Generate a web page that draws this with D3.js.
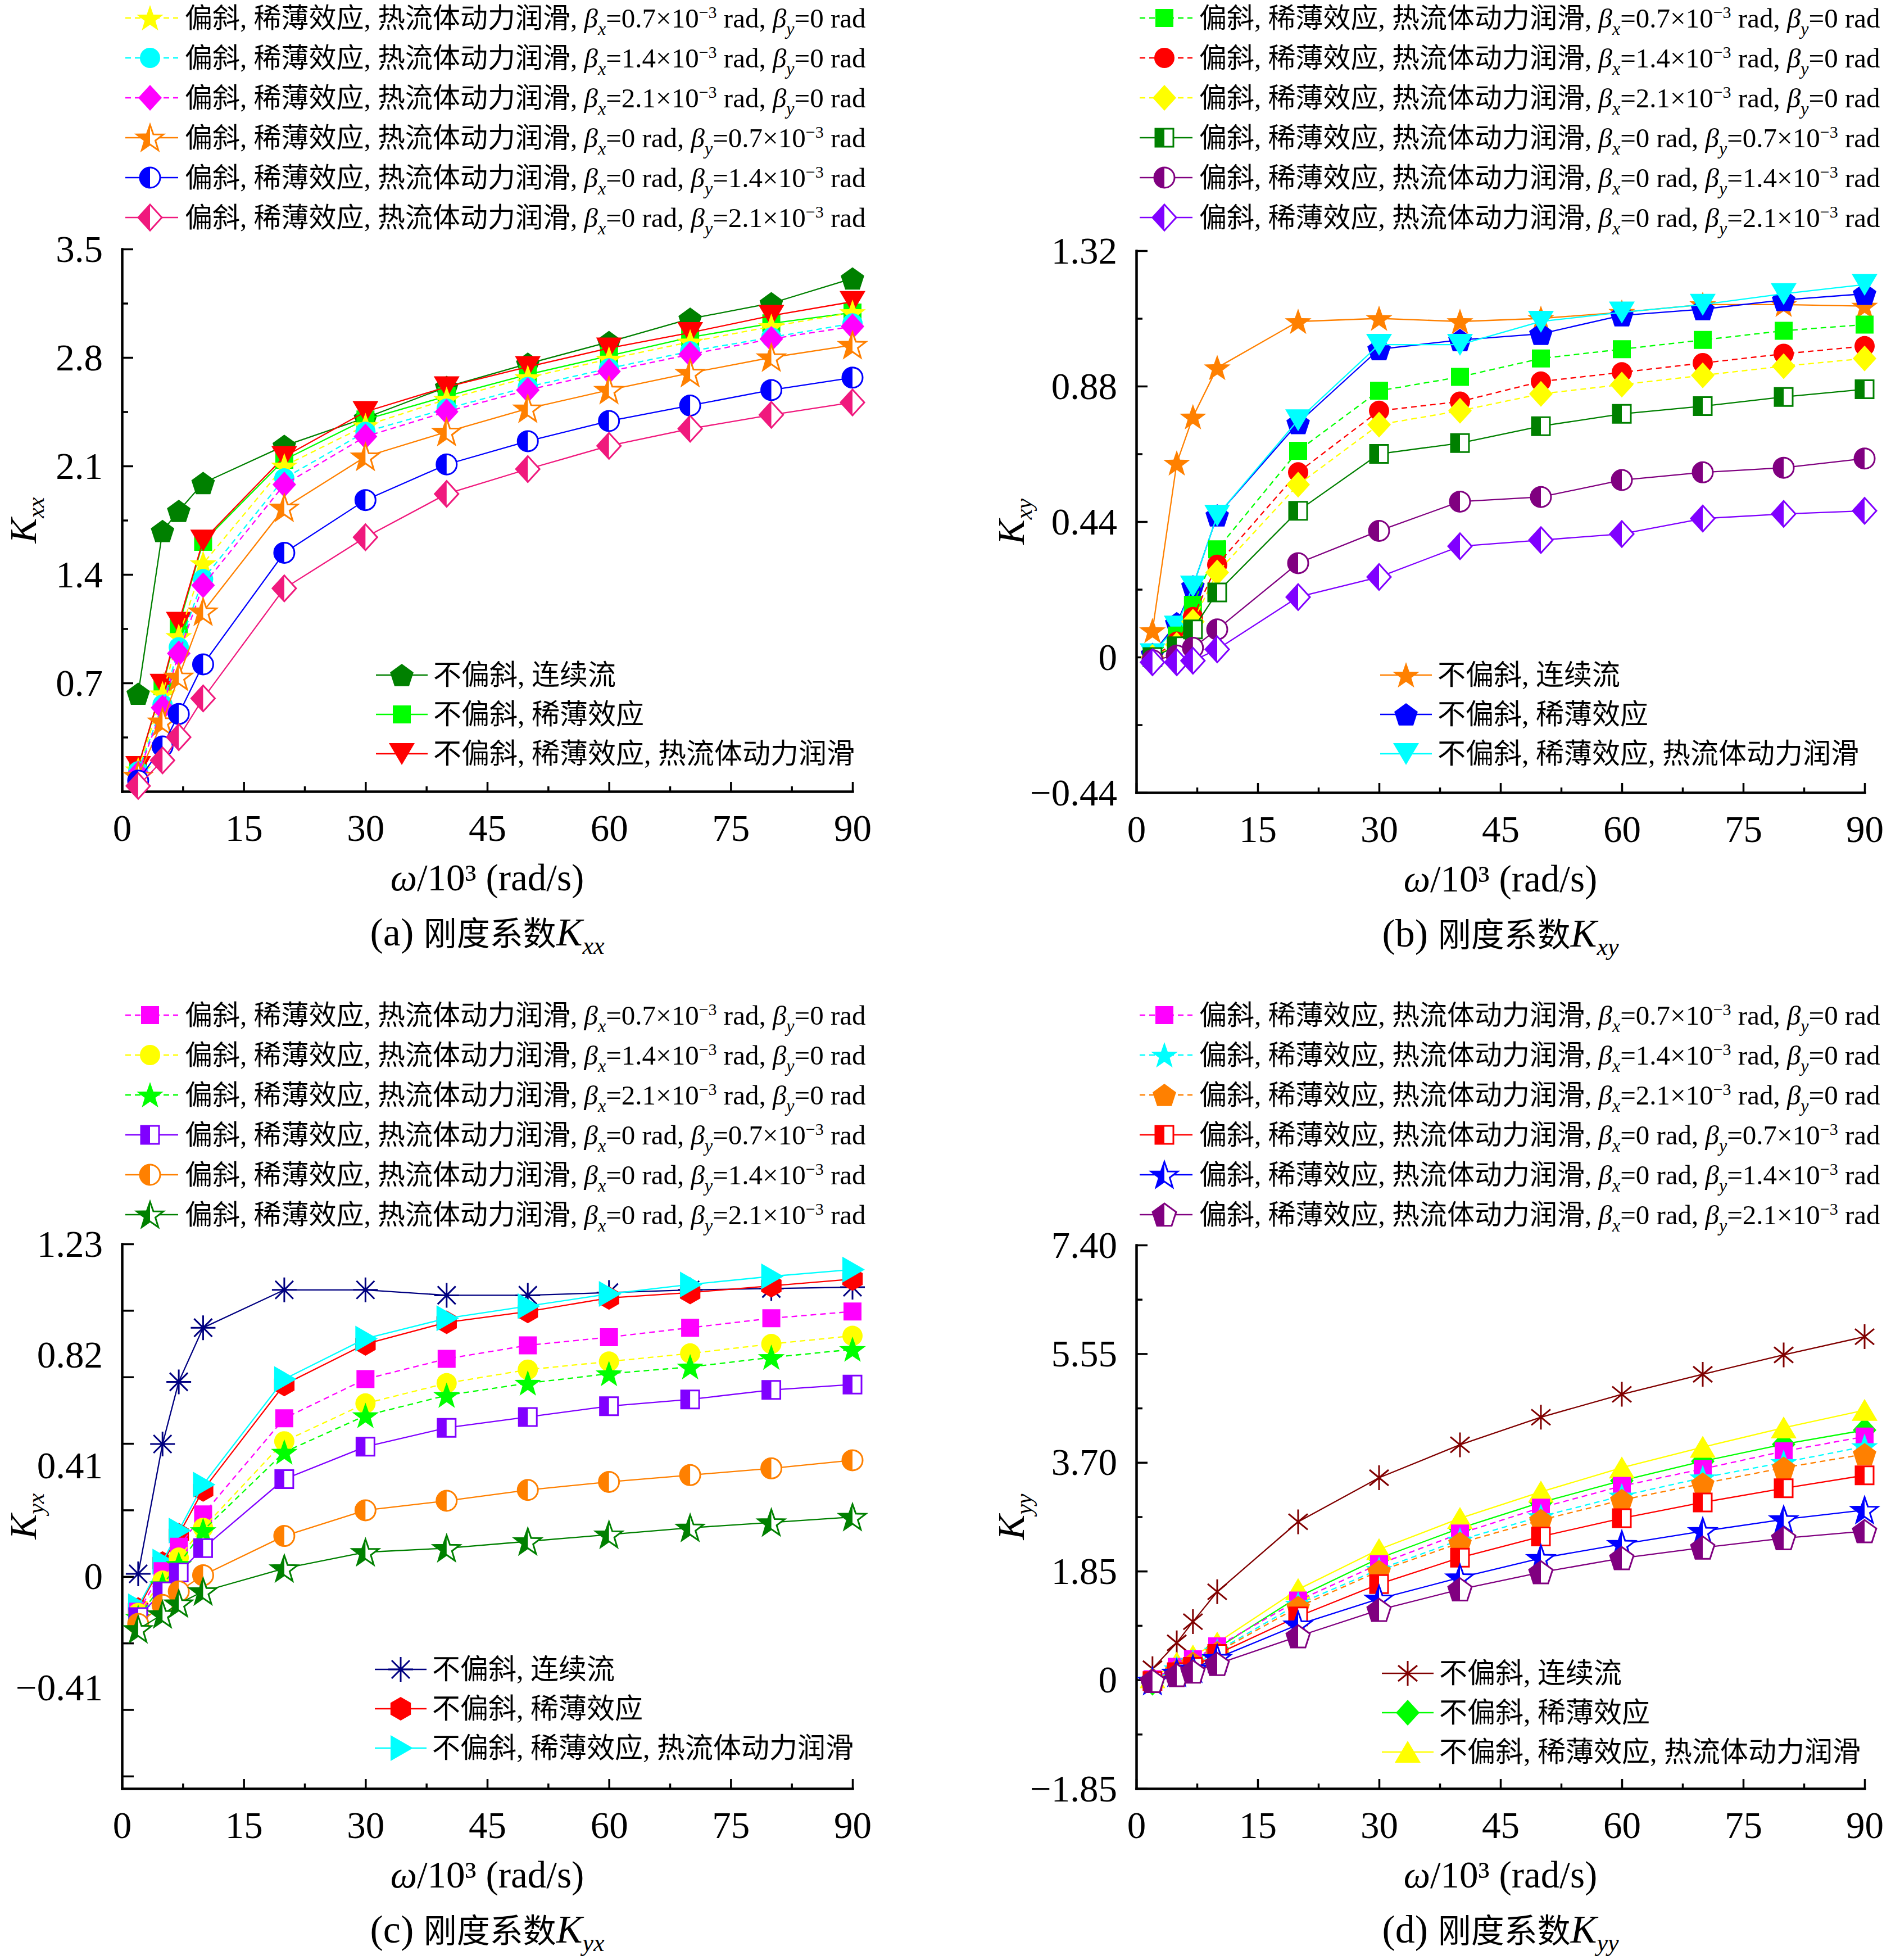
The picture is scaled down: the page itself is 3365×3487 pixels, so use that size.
<!DOCTYPE html>
<html>
<head>
<meta charset="utf-8">
<script src="https://cdn.jsdelivr.net/npm/d3@7"></script>
<style>
  body { margin: 0; background: #fff; }
  text { font-family: "Liberation Serif", "Times New Roman", "Noto Sans CJK SC", serif; fill: #000; }
</style>
</head>
<body>
<svg id="chart" width="3365" height="3487"></svg>
<script>
// shaft speed, 10^3 rad/s
var omega = [2, 5, 7, 10, 20, 30, 40, 50, 60, 70, 80, 90]
var xTicks = [0, 15, 30, 45, 60, 75, 90]

var mainLabels = ["不偏斜, 连续流", "不偏斜, 稀薄效应", "不偏斜, 稀薄效应, 热流体动力润滑"]
var betaX = ["0.7", "1.4", "2.1", "0", "0", "0"]
var betaY = ["0", "0", "0", "0.7", "1.4", "2.1"]

// (a) Kxx
var kxxContinuum = [0.63, 1.68, 1.81, 1.99, 2.23, 2.41, 2.61, 2.76, 2.90, 3.05, 3.15, 3.31]
var kxxRarefied  = [0.16, 0.68, 1.07, 1.61, 2.14, 2.40, 2.55, 2.69, 2.81, 2.93, 3.02, 3.09]
var kxxThermal   = [0.16, 0.69, 1.09, 1.62, 2.16, 2.45, 2.61, 2.74, 2.86, 2.96, 3.07, 3.16]
var kxxBx07 = [0.14, 0.63, 1.00, 1.47, 2.10, 2.36, 2.53, 2.67, 2.79, 2.90, 3.00, 3.09]
var kxxBx14 = [0.13, 0.56, 0.93, 1.37, 2.02, 2.32, 2.47, 2.61, 2.73, 2.84, 2.93, 3.02]
var kxxBx21 = [0.115, 0.54, 0.89, 1.33, 1.98, 2.29, 2.45, 2.59, 2.71, 2.82, 2.92, 3.00]
var kxxBy07 = [0.10, 0.45, 0.74, 1.16, 1.83, 2.16, 2.32, 2.47, 2.59, 2.70, 2.80, 2.88]
var kxxBy14 = [0.07, 0.29, 0.50, 0.82, 1.54, 1.88, 2.11, 2.26, 2.39, 2.49, 2.59, 2.67]
var kxxBy21 = [0.035, 0.20, 0.35, 0.60, 1.31, 1.64, 1.92, 2.08, 2.23, 2.34, 2.43, 2.51]
var kxxTicks = [0.7, 1.4, 2.1, 2.8, 3.5]

// (b) Kxy
var kxyContinuum = [0.086, 0.63, 0.78, 0.94, 1.09, 1.10, 1.09, 1.10, 1.12, 1.145, 1.145, 1.14]
var kxyRarefied  = [0.01, 0.11, 0.23, 0.46, 0.76, 1.00, 1.03, 1.05, 1.11, 1.13, 1.16, 1.18]
var kxyThermal   = [0.01, 0.10, 0.23, 0.46, 0.77, 1.015, 1.015, 1.09, 1.12, 1.145, 1.18, 1.21]
var kxyBx07 = [0.0, 0.07, 0.17, 0.35, 0.67, 0.865, 0.91, 0.97, 1.00, 1.03, 1.06, 1.08]
var kxyBx14 = [0.0, 0.05, 0.13, 0.30, 0.60, 0.80, 0.83, 0.895, 0.925, 0.955, 0.985, 1.01]
var kxyBx21 = [0.0, 0.04, 0.115, 0.275, 0.56, 0.755, 0.80, 0.855, 0.885, 0.915, 0.945, 0.97]
var kxyBy07 = [0.0, 0.035, 0.09, 0.21, 0.475, 0.66, 0.695, 0.75, 0.79, 0.815, 0.845, 0.87]
var kxyBy14 = [-0.01, 0.005, 0.03, 0.09, 0.305, 0.41, 0.505, 0.52, 0.575, 0.60, 0.615, 0.645]
var kxyBy21 = [-0.017, -0.017, -0.012, 0.025, 0.195, 0.26, 0.36, 0.38, 0.40, 0.45, 0.465, 0.475]
var kxyTicks = [-0.44, 0, 0.44, 0.88, 1.32]

// (c) Kyx
var kyxContinuum = [0.01, 0.49, 0.72, 0.92, 1.06, 1.06, 1.04, 1.04, 1.05, 1.06, 1.065, 1.07]
var kyxRarefied  = [-0.12, 0.05, 0.155, 0.32, 0.71, 0.86, 0.94, 0.98, 1.03, 1.05, 1.075, 1.10]
var kyxThermal   = [-0.11, 0.055, 0.17, 0.34, 0.73, 0.88, 0.955, 1.00, 1.045, 1.08, 1.11, 1.135]
var kyxBx07 = [-0.13, 0.02, 0.11, 0.23, 0.585, 0.73, 0.805, 0.855, 0.885, 0.92, 0.955, 0.98]
var kyxBx14 = [-0.135, -0.015, 0.07, 0.18, 0.50, 0.64, 0.715, 0.765, 0.795, 0.825, 0.86, 0.89]
var kyxBx21 = [-0.15, -0.03, 0.045, 0.17, 0.46, 0.595, 0.67, 0.715, 0.75, 0.775, 0.81, 0.84]
var kyxBy07 = [-0.15, -0.055, 0.015, 0.105, 0.36, 0.48, 0.55, 0.59, 0.63, 0.655, 0.69, 0.71]
var kyxBy14 = [-0.175, -0.105, -0.055, 0.005, 0.15, 0.245, 0.28, 0.32, 0.35, 0.375, 0.40, 0.43]
var kyxBy21 = [-0.195, -0.14, -0.10, -0.055, 0.03, 0.09, 0.105, 0.13, 0.155, 0.18, 0.20, 0.22]
var kyxTicks = [-0.41, 0, 0.41, 0.82, 1.23]
var kyxMarks = [-0.738, -0.492, -0.246, 0, 0.246, 0.492, 0.738, 0.984, 1.23]

// (d) Kyy
var kyyContinuum = [0.19, 0.63, 0.99, 1.50, 2.69, 3.44, 4.00, 4.47, 4.86, 5.20, 5.53, 5.84]
var kyyRarefied  = [-0.05, 0.19, 0.32, 0.54, 1.41, 2.07, 2.58, 3.02, 3.39, 3.72, 4.01, 4.25]
var kyyThermal   = [0.04, 0.29, 0.41, 0.63, 1.54, 2.22, 2.75, 3.20, 3.61, 3.96, 4.29, 4.59]
var kyyBx07 = [0.01, 0.22, 0.35, 0.57, 1.35, 1.97, 2.49, 2.93, 3.30, 3.59, 3.89, 4.14]
var kyyBx14 = [0.0, 0.19, 0.31, 0.49, 1.29, 1.88, 2.38, 2.78, 3.13, 3.44, 3.70, 3.97]
var kyyBx21 = [-0.02, 0.16, 0.29, 0.47, 1.24, 1.85, 2.33, 2.72, 3.06, 3.34, 3.61, 3.84]
var kyyBy07 = [-0.02, 0.13, 0.22, 0.44, 1.08, 1.63, 2.08, 2.44, 2.75, 3.02, 3.26, 3.48]
var kyyBy14 = [-0.02, 0.12, 0.19, 0.37, 0.94, 1.38, 1.74, 2.07, 2.31, 2.53, 2.73, 2.89]
var kyyBy21 = [-0.02, 0.08, 0.14, 0.27, 0.74, 1.19, 1.54, 1.83, 2.07, 2.25, 2.41, 2.53]
var kyyTicks = [-1.85, 0, 1.85, 3.70, 5.55, 7.40]

var svg = d3.select("#chart")
svg.append("rect").attr("width", 3365).attr("height", 3487).attr("fill", "#fff")

// left half clip, used by the half filled markers
svg.append("defs").append("clipPath").attr("id", "leftHalf")
  .append("rect").attr("x", -60).attr("y", -60).attr("width", 60).attr("height", 120)

function poly(pts) {
  return "M" + pts.map(function (p) { return p[0].toFixed(2) + "," + p[1].toFixed(2) }).join("L") + "Z"
}

function ngon(n, r, dy) {
  var pts = []
  for (var i = 0; i < n; i++) {
    var a = -Math.PI / 2 + i * 2 * Math.PI / n
    pts.push([r * Math.cos(a), r * Math.sin(a) + dy])
  }
  return pts
}

function starPts(r, ri) {
  var pts = []
  for (var i = 0; i < 10; i++) {
    var a = -Math.PI / 2 + i * Math.PI / 5
    var rr = i % 2 ? ri : r
    pts.push([rr * Math.cos(a), rr * Math.sin(a) + 2])
  }
  return pts
}

var shapes = {
  circle: "M-18,0A18,18 0 1,0 18,0A18,18 0 1,0 -18,0Z",
  square: poly([[-16, -16], [16, -16], [16, 16], [-16, 16]]),
  diamond: poly([[0, -23], [21, 0], [0, 23], [-21, 0]]),
  triUp: poly([[0, -20], [23, 19], [-23, 19]]),
  triDown: poly([[-23, -19], [23, -19], [0, 20]]),
  triRight: poly([[-18, -23], [22, 0], [-18, 23]]),
  pentagon: poly(ngon(5, 22, 2)),
  hexagon: poly(ngon(6, 21, 0)),
  star: poly(starPts(25, 10)),
  asterisk8: "M-22,0L22,0M0,-22L0,22M-16,-16L16,16M-16,16L16,-16",
  asterisk6: "M0,-22L0,22M-17,-14L17,14M-17,14L17,-14"
}

function drawMarker(g, st, px, py) {
  var m = g.append("g").attr("transform", "translate(" + px + "," + py + ")")
  var d = shapes[st.s]
  if (st.s.indexOf("asterisk") === 0) {
    m.append("path").attr("d", d).attr("fill", "none").attr("stroke", st.c).attr("stroke-width", 3)
  } else if (st.half) {
    m.append("path").attr("d", d).attr("fill", "#fff").attr("stroke", st.c).attr("stroke-width", 3)
    m.append("path").attr("d", d).attr("fill", st.c).attr("clip-path", "url(#leftHalf)")
  } else {
    m.append("path").attr("d", d).attr("fill", st.c)
  }
}

function addBeta(t, axis, val) {
  t.append("tspan").attr("font-style", "italic").text("β")
  t.append("tspan").attr("font-style", "italic").attr("font-size", 32).attr("dy", 13).text(axis)
  if (val === "0") {
    t.append("tspan").attr("dy", -13).text("=0 rad")
  } else {
    t.append("tspan").attr("dy", -13).text("=" + val + "×10")
    t.append("tspan").attr("font-size", 30).attr("dy", -17).text("−3")
    t.append("tspan").attr("dy", 17).text(" rad")
  }
}

function fmt(dec) {
  return function (v) {
    if (v === 0) return "0"
    return (v < 0 ? "−" : "") + Math.abs(v).toFixed(dec)
  }
}

function styleAxis(sel) {
  sel.select(".domain").attr("stroke", "#000").attr("stroke-width", 4).attr("stroke-linecap", "square")
  sel.selectAll(".tick line").attr("stroke", "#000").attr("stroke-width", 3.5)
}

function drawPanel(p) {
  var g = svg.append("g")
  var x = d3.scaleLinear().domain([0, 90]).range([p.x0, p.x1])
  var y = d3.scaleLinear().domain(p.domain).range([p.yBot, p.yTop])

  // x axis: minor then major ticks, pointing inward
  g.append("g").attr("transform", "translate(0," + p.yBot + ")")
    .call(d3.axisBottom(x).tickValues(d3.range(7.5, 90, 15)).tickSize(-9).tickSizeOuter(0).tickFormat(""))
    .call(styleAxis)
  var xa = g.append("g").attr("transform", "translate(0," + p.yBot + ")")
    .call(d3.axisBottom(x).tickValues(xTicks).tickSize(-17).tickSizeOuter(0))
    .call(styleAxis)
  xa.selectAll("text").attr("y", 88).attr("dy", 0).attr("font-size", 67)
    .style("font-family", "Liberation Serif")

  // y axis
  g.append("g").attr("transform", "translate(" + p.x0 + ",0)")
    .call(d3.axisLeft(y).tickValues(p.minor).tickSize(-p.minorLen).tickSizeOuter(0).tickFormat(""))
    .call(styleAxis)
  g.append("g").attr("transform", "translate(" + p.x0 + ",0)")
    .call(d3.axisLeft(y).tickValues(p.major).tickSize(-p.majorLen).tickSizeOuter(0).tickFormat(""))
    .call(styleAxis)
  var ya = g.append("g").attr("transform", "translate(" + p.x0 + ",0)")
    .call(d3.axisLeft(y).tickValues(p.ticks).tickSize(0).tickFormat(fmt(p.dec)))
  ya.select(".domain").remove()
  ya.selectAll("text").attr("x", -34).attr("dy", "0.33em").attr("font-size", 67)
    .style("font-family", "Liberation Serif")

  // axis titles and caption
  var xm = (p.x0 + p.x1) / 2
  var xt = g.append("text").attr("x", xm).attr("y", p.yBot + 176).attr("text-anchor", "middle").attr("font-size", 67)
  xt.append("tspan").attr("font-style", "italic").text("ω")
  xt.append("tspan").text("/10³ (rad/s)")

  var cap = g.append("text").attr("x", xm).attr("y", p.yBot + 274).attr("text-anchor", "middle").attr("font-size", 70)
  cap.append("tspan").text("(" + p.id + ") ")
  cap.append("tspan").attr("font-size", 59).text("刚度系数")
  cap.append("tspan").attr("font-style", "italic").text("K")
  cap.append("tspan").attr("font-style", "italic").attr("font-size", 44).attr("dy", 15).text(p.sub)

  var yl = g.append("text").attr("transform", "translate(" + p.yLabelX + "," + ((p.yTop + p.yBot) / 2) + ") rotate(-90)")
    .attr("text-anchor", "middle").attr("font-size", 67)
  yl.append("tspan").attr("font-style", "italic").text("K")
  yl.append("tspan").attr("font-style", "italic").attr("font-size", 42).attr("dy", 14).text(p.sub)

  // series: the three reference cases first, then the tilted ones
  var all = p.mainStyles.map(function (st, i) { return { st: st, v: p.mainValues[i] } })
    .concat(p.tiltStyles.map(function (st, i) { return { st: st, v: p.tiltValues[i] } }))
  var line = d3.line().x(function (d, i) { return x(omega[i]) }).y(function (d) { return y(d) })
  all.forEach(function (s) {
    g.append("path").attr("d", line(s.v)).attr("fill", "none").attr("stroke", s.st.c)
      .attr("stroke-width", 2.3).attr("stroke-dasharray", s.st.dash ? "10,7" : null)
    s.v.forEach(function (d, i) { drawMarker(g, s.st, x(omega[i]), y(d)) })
  })

  // top legend (tilted cases)
  p.tiltStyles.forEach(function (st, i) {
    var ry = p.topY + i * 71
    g.append("line").attr("x1", p.x0 + 6).attr("x2", p.x0 + 100).attr("y1", ry).attr("y2", ry)
      .attr("stroke", st.c).attr("stroke-width", 2.5).attr("stroke-dasharray", st.dash ? "10,7" : null)
    drawMarker(g, st, p.x0 + 50, ry)
    var t = g.append("text").attr("x", p.x0 + 112).attr("y", ry + 17).attr("font-size", 49)
    t.append("tspan").text("偏斜, 稀薄效应, 热流体动力润滑, ")
    addBeta(t, "x", betaX[i])
    t.append("tspan").text(", ")
    addBeta(t, "y", betaY[i])
  })

  // inner legend (untilted cases)
  p.mainStyles.forEach(function (st, i) {
    var ry = p.inY + i * 70
    g.append("line").attr("x1", p.inX - 46).attr("x2", p.inX + 46).attr("y1", ry).attr("y2", ry)
      .attr("stroke", st.c).attr("stroke-width", 2.5)
    drawMarker(g, st, p.inX, ry)
    g.append("text").attr("x", p.inX + 56).attr("y", ry + 17).attr("font-size", 50).text(mainLabels[i])
  })
}

drawPanel({
  id: "a", sub: "xx", x0: 217, x1: 1517, yTop: 443, yBot: 1408, domain: [0, 3.5], yLabelX: 64,
  ticks: kxxTicks, dec: 1, major: kxxTicks, minor: [0.35, 1.05, 1.75, 2.45, 3.15], majorLen: 20, minorLen: 11,
  topY: 32, inX: 715, inY: 1201,
  mainValues: [kxxContinuum, kxxRarefied, kxxThermal],
  mainStyles: [{ c: "#008000", s: "pentagon" }, { c: "#00ff00", s: "square" }, { c: "#ff0000", s: "triDown" }],
  tiltValues: [kxxBx07, kxxBx14, kxxBx21, kxxBy07, kxxBy14, kxxBy21],
  tiltStyles: [{ c: "#ffff00", s: "star", dash: true }, { c: "#00ffff", s: "circle", dash: true },
    { c: "#ff00ff", s: "diamond", dash: true }, { c: "#ff8000", s: "star", half: true },
    { c: "#0000ff", s: "circle", half: true }, { c: "#f0197d", s: "diamond", half: true }]
})

drawPanel({
  id: "b", sub: "xy", x0: 2022, x1: 3318, yTop: 446, yBot: 1410, domain: [-0.44, 1.32], yLabelX: 1822,
  ticks: kxyTicks, dec: 2, major: kxyTicks, minor: [-0.22, 0.22, 0.66, 1.10], majorLen: 20, minorLen: 11,
  topY: 32, inX: 2502, inY: 1201,
  mainValues: [kxyContinuum, kxyRarefied, kxyThermal],
  mainStyles: [{ c: "#ff8000", s: "star" }, { c: "#0000ff", s: "pentagon" }, { c: "#00ffff", s: "triDown" }],
  tiltValues: [kxyBx07, kxyBx14, kxyBx21, kxyBy07, kxyBy14, kxyBy21],
  tiltStyles: [{ c: "#00ff00", s: "square", dash: true }, { c: "#ff0000", s: "circle", dash: true },
    { c: "#ffff00", s: "diamond", dash: true }, { c: "#008000", s: "square", half: true },
    { c: "#800080", s: "circle", half: true }, { c: "#8000ff", s: "diamond", half: true }]
})

drawPanel({
  id: "c", sub: "yx", x0: 217, x1: 1517, yTop: 2213, yBot: 3182, domain: [-0.784, 1.23], yLabelX: 64,
  ticks: kyxTicks, dec: 2, major: kyxMarks, minor: [], majorLen: 21, minorLen: 11,
  topY: 1806, inX: 713, inY: 2970,
  mainValues: [kyxContinuum, kyxRarefied, kyxThermal],
  mainStyles: [{ c: "#000080", s: "asterisk8" }, { c: "#ff0000", s: "hexagon" }, { c: "#00ffff", s: "triRight" }],
  tiltValues: [kyxBx07, kyxBx14, kyxBx21, kyxBy07, kyxBy14, kyxBy21],
  tiltStyles: [{ c: "#ff00ff", s: "square", dash: true }, { c: "#ffff00", s: "circle", dash: true },
    { c: "#00ff00", s: "star", dash: true }, { c: "#8000ff", s: "square", half: true },
    { c: "#ff8000", s: "circle", half: true }, { c: "#008000", s: "star", half: true }]
})

drawPanel({
  id: "d", sub: "yy", x0: 2022, x1: 3318, yTop: 2215, yBot: 3182, domain: [-1.85, 7.40], yLabelX: 1822,
  ticks: kyyTicks, dec: 2, major: kyyTicks, minor: [-0.925, 0.925, 2.775, 4.625, 6.475], majorLen: 20, minorLen: 11,
  topY: 1806, inX: 2505, inY: 2977,
  mainValues: [kyyContinuum, kyyRarefied, kyyThermal],
  mainStyles: [{ c: "#800000", s: "asterisk6" }, { c: "#00ff00", s: "diamond" }, { c: "#ffff00", s: "triUp" }],
  tiltValues: [kyyBx07, kyyBx14, kyyBx21, kyyBy07, kyyBy14, kyyBy21],
  tiltStyles: [{ c: "#ff00ff", s: "square", dash: true }, { c: "#00ffff", s: "star", dash: true },
    { c: "#ff8000", s: "pentagon", dash: true }, { c: "#ff0000", s: "square", half: true },
    { c: "#0000ff", s: "star", half: true }, { c: "#800080", s: "pentagon", half: true }]
})
</script>
</body>
</html>
